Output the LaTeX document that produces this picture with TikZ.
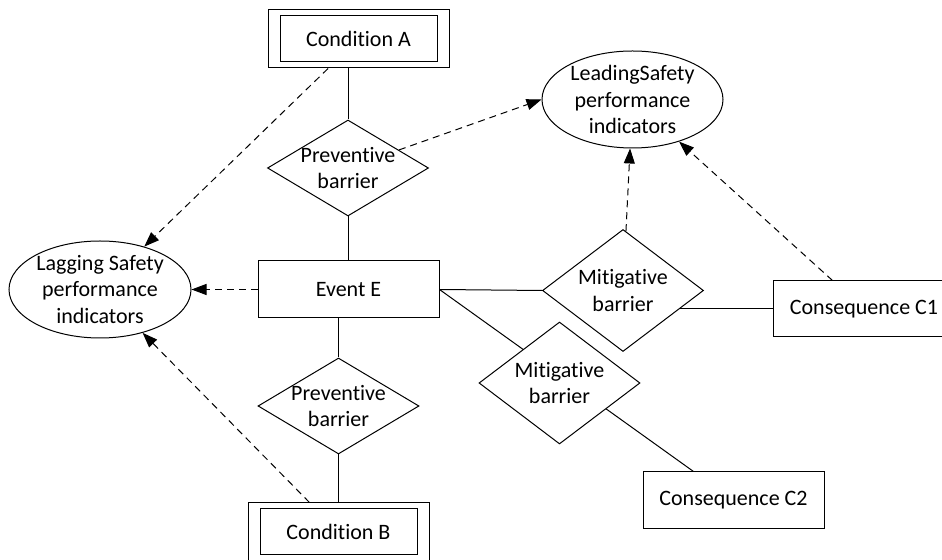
\documentclass[tikz,border=0pt]{standalone}
\usepackage{fontspec}
\setmainfont{Carlito}[Ligatures=CommonOff]
\usetikzlibrary{arrows.meta,shapes.geometric,backgrounds}

\begin{document}
\begin{tikzpicture}[
  x=0.5pt,y=-0.5pt,
  >={Triangle[length=7.5pt,width=5.5pt]},
  font=\fontsize{11pt}{13.4pt}\selectfont,
  box/.style={rectangle,draw,line width=0.5pt,fill=white,inner sep=0pt,
              minimum width=90.5pt,minimum height=28.5pt,align=center},
  inbox/.style={rectangle,draw,line width=0.5pt,inner sep=0pt,
              minimum width=78.5pt,minimum height=23pt,align=center},
  prevbar/.style={diamond,draw,line width=0.5pt,fill=white,inner sep=0pt,
              minimum width=80.5pt,minimum height=48pt},
  mitbar/.style={diamond,draw,line width=0.5pt,fill=white,inner sep=0pt,
              minimum width=80.5pt,minimum height=61pt},
  spi/.style={ellipse,draw,line width=0.5pt,fill=white,inner sep=0pt,
              minimum width=91pt,minimum height=48.5pt},
  txt/.style={label={[align=center]center:{#1}}},
  ln/.style={line width=0.5pt},
  dsh/.style={->,line width=0.5pt,dash pattern=on 3.5pt off 2.5pt},
]
  \clip (0,0) rectangle (942,560);

  % conditions (double boxes)
  \node[box,minimum height=29pt] (condA) at (358.5,39) {};
  \node[inbox] (condAin) at (358.5,39) {Condition A};
  \node[box,minimum height=29pt] (condB) at (338.5,532) {};
  \node[inbox] (condBin) at (338.5,531.5) {Condition B};

  % event and consequences
  \node[box] (event) at (348.5,289.5) {Event E};
  \node[box,minimum width=91pt,minimum height=28pt] (c1) at (864,309) {Consequence C1};
  \node[box] (c2) at (733.5,500.5) {Consequence C2};

  % barriers
  \node[prevbar,txt={Preventive\\barrier}] (prev1) at (348,168) {};
  \node[prevbar,txt={Preventive\\barrier}] (prev2) at (338.5,406) {};
  \node[mitbar,txt={Mitigative\\barrier}] (mit1) at (623,290.5) {};
  \node[mitbar,txt={Mitigative\\barrier}] (mit2) at (559.5,383) {};

  % indicators
  \node[spi,txt={Lagging Safety\\performance\\indicators}] (lag) at (100,289.5) {};
  \node[spi,minimum width=90.5pt,txt={LeadingSafety\\performance\\indicators}] (lead) at (632.5,99.5) {};

  \begin{scope}[on background layer]
    % bow-tie lines
    \draw[ln] (prev1.north) -- (prev1.north |- condA.south);
    \draw[ln] (prev1.south) -- (prev1.south |- event.north);
    \draw[ln] (prev2.north |- event.south) -- (prev2.north);
    \draw[ln] (prev2.south) -- (prev2.south |- condB.north);
    \draw[ln] (event.east) -- (mit1.west);
    \draw[ln] (c1.west) -- (c1.west -| mit1.center);
    \draw[ln] (event.east) -- ([xshift=-20pt]c2.north);

    % indicator links
    \draw[dsh] (condA) -- (lag);
    \draw[dsh] (condB) -- (lag);
    \draw[dsh] (event.west) -- (lag.east);
    \draw[dsh] (prev1) -- (lead.west);
    \draw[dsh] (mit1) -- (lead);
    \draw[dsh] (c1) -- (lead);
  \end{scope}
\end{tikzpicture}
\end{document}
